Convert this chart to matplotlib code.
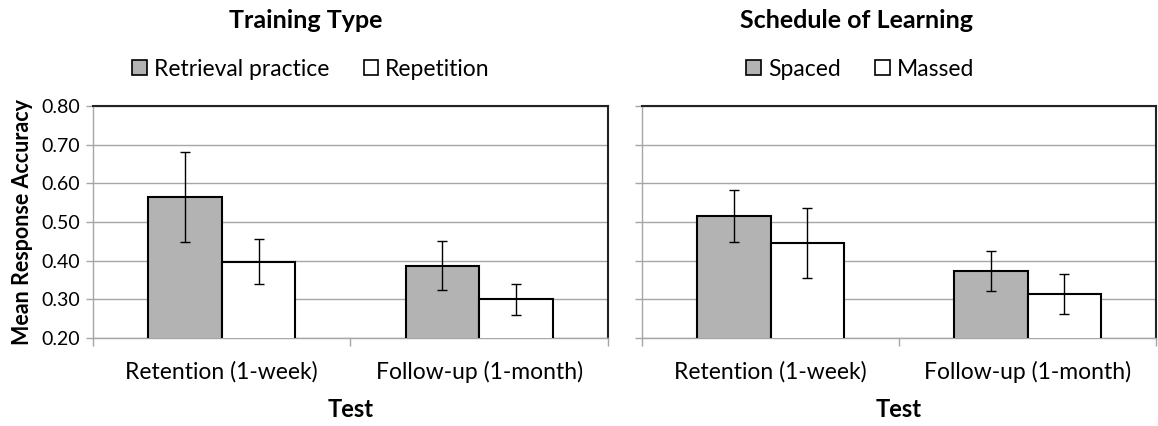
import matplotlib
matplotlib.use("Agg")
import matplotlib.pyplot as plt
from matplotlib.patches import Patch
import numpy as np

plt.rcParams["font.family"] = ["Lato", "DejaVu Sans"]

# data
tests = ["Retention (1-week)", "Follow-up (1-month)"]

retrieval = [0.565, 0.387]
retrieval_err = [0.116, 0.063]
repetition = [0.397, 0.300]
repetition_err = [0.058, 0.040]

spaced = [0.515, 0.374]
spaced_err = [0.067, 0.052]
massed = [0.446, 0.314]
massed_err = [0.091, 0.052]

y_ticks = [0.20, 0.30, 0.40, 0.50, 0.60, 0.70, 0.80]

GRAY = "#b3b3b3"
GRID = "#a6a6a6"


def _draw_panel(ax, vals_a, err_a, vals_b, err_b, show_ylabels):
    x = np.arange(len(tests)) + 0.5
    w = 0.286
    ax.bar(x - w / 2, vals_a, w, color=GRAY, edgecolor="black",
           linewidth=1.5, zorder=3)
    ax.bar(x + w / 2, vals_b, w, color="white", edgecolor="black",
           linewidth=1.5, zorder=3)
    ax.errorbar(x - w / 2, vals_a, yerr=err_a, fmt="none", ecolor="black",
                elinewidth=1, capsize=3.5, capthick=1, zorder=4)
    ax.errorbar(x + w / 2, vals_b, yerr=err_b, fmt="none", ecolor="black",
                elinewidth=1, capsize=3.5, capthick=1, zorder=4)

    ax.set_xlim(0, len(tests))
    ax.set_ylim(0.20, 0.80)
    ax.set_yticks(y_ticks)
    if show_ylabels:
        ax.set_yticklabels([f"{v:.2f}" for v in y_ticks], fontsize=14)
    else:
        ax.set_yticklabels([])
    ax.tick_params(axis="y", length=5, color=GRID, width=1, pad=4)

    ax.set_xticks(x)
    ax.set_xticklabels(tests, fontsize=16.5)
    ax.set_xticks(np.arange(len(tests) + 1), minor=True)
    ax.tick_params(axis="x", which="major", length=0, pad=16.5)
    ax.tick_params(axis="x", which="minor", length=6, color=GRID, width=1)

    ax.yaxis.grid(True, color=GRID, linewidth=1)
    ax.set_axisbelow(True)
    for side in ("top", "right"):
        ax.spines[side].set_color("#222222")
        ax.spines[side].set_linewidth(1.5)
    for side in ("left", "bottom"):
        ax.spines[side].set_color(GRID)
        ax.spines[side].set_linewidth(1)

    ax.set_xlabel("Test", fontsize=17, fontweight="bold", labelpad=11)


fig = plt.figure(figsize=(11.58, 4.26), dpi=100)
ax1 = fig.add_axes([0.0803, 0.2066, 0.4447, 0.5446])
ax2 = fig.add_axes([0.5544, 0.2066, 0.4439, 0.5446])

_draw_panel(ax1, retrieval, retrieval_err, repetition, repetition_err, True)
_draw_panel(ax2, spaced, spaced_err, massed, massed_err, False)

ax1.set_ylabel("Mean Response Accuracy", fontsize=15.5, fontweight="bold", labelpad=6)

fig.text(306 / 1158, 1 - 21 / 426, "Training Type", ha="center", va="center",
         fontsize=18, fontweight="bold")
fig.text(857 / 1158, 1 - 21 / 426, "Schedule of Learning", ha="center", va="center",
         fontsize=18, fontweight="bold")


def _legend(labels, cx):
    handles = [Patch(facecolor=GRAY, edgecolor="black", linewidth=1.2),
               Patch(facecolor="white", edgecolor="black", linewidth=1.2)]
    fig.legend(handles, labels, loc="center", bbox_to_anchor=(cx, 1 - 69 / 426),
               ncol=2, frameon=False, fontsize=16.5, handlelength=0.65,
               handleheight=0.65, handletextpad=0.3, columnspacing=1.5,
               borderpad=0)


_legend(["Retrieval practice", "Repetition"], 311 / 1158)
_legend(["Spaced", "Massed"], 860 / 1158)

fig.savefig("out.png", dpi=100)
